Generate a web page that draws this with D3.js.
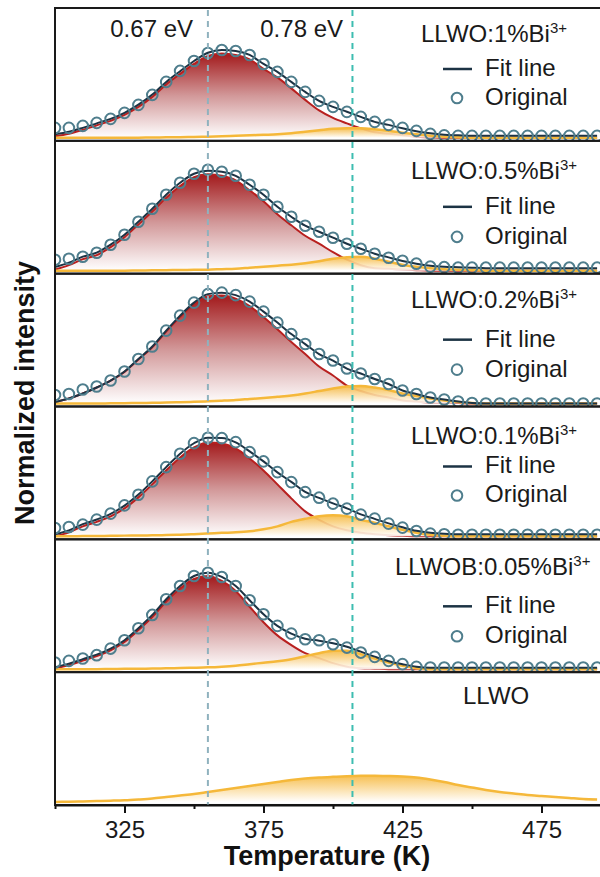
<!DOCTYPE html>
<html>
<head>
<meta charset="utf-8">
<script src="https://cdn.jsdelivr.net/npm/d3@7"></script>
<style>
body { margin: 0; background: #fff; }
svg { display: block; font-family: "Liberation Sans", Arial, sans-serif; }
</style>
</head>
<body>
<div id="chart"></div>
<script>
// temperature grid of the measured points (K)
const temps = [300,305,310,315,320,325,330,335,340,345,350,355,360,365,370,375,380,385,390,395,
               400,405,410,415,420,425,430,435,440,445,450,455,460,465,470,475,480,485,490,495];

const sampleNames = ["LLWO:1%Bi", "LLWO:0.5%Bi", "LLWO:0.2%Bi", "LLWO:0.1%Bi", "LLWOB:0.05%Bi", "LLWO"];
const sampleIons  = ["3+", "3+", "3+", "3+", "3+", ""];

// original (measured) normalized intensity
const orig1 = [.10,.10,.12,.15,.19,.25,.33,.43,.56,.67, .77,.85,.88,.87,.83,.74,.66,.56,.46,.37,
               .31,.26,.21,.16,.13,.10,.07,.04,.025,.02, .02,.02,.02,.02,.02,.02,.02,.02,.02,.02];
const orig2 = [.11,.12,.14,.18,.26,.36,.49,.62,.76,.88, .97,1.01,.99,.95,.86,.76,.64,.54,.45,.39,
               .33,.27,.22,.17,.13,.10,.07,.04,.035,.03, .03,.03,.03,.03,.03,.03,.03,.03,.03,.03];
const orig3 = [.085,.095,.14,.17,.23,.32,.445,.57,.73,.88, 1.01,1.095,1.11,1.085,1.02,.92,.81,.695,.595,.495,
               .43,.35,.30,.245,.195,.13,.095,.06,.04,.02, .005,0,0,0,0,0,0,0,0,0];
const orig4 = [.083,.093,.117,.167,.227,.31,.417,.55,.693,.827, .933,.987,.983,.943,.843,.75,.643,.543,.443,.387,
               .327,.277,.217,.177,.127,.087,.053,.027,.02,.015, .015,.015,.015,.015,.015,.015,.015,.015,.015,.015];
const orig5 = [.066,.083,.106,.14,.206,.29,.41,.543,.70,.833, .933,.966,.923,.833,.69,.55,.433,.356,.30,.29,
               .25,.216,.166,.123,.083,.05,.023,.017,.016,.016, .016,.016,.016,.016,.016,.016,.016,.016,.016,.016];

// fitted low-temperature component (red)
const red1 = [.015,.04,.08,.125,.17,.23,.31,.41,.535,.64, .74,.82,.845,.83,.785,.69,.605,.495,.38,.275,
              .20,.145,.095,.055,.04,.025,.01,.005,0,0, 0,0,0,0,0,0,0,0,0,0];
const red2 = [.01,.055,.115,.155,.235,.335,.463,.592,.73,.848, .937,.965,.95,.905,.805,.695,.565,.455,.35,.27,
              .185,.11,.055,.025,.018,.012,.005,0,0,0, 0,0,0,0,0,0,0,0,0,0];
const red3 = [.015,.05,.10,.16,.228,.317,.44,.563,.72,.867, .993,1.073,1.082,1.05,.975,.865,.743,.615,.495,.37,
              .28,.18,.125,.085,.06,.03,.02,.01,.01,.005, 0,0,0,0,0,0,0,0,0,0];
const red4 = [0,.04,.10,.145,.20,.28,.39,.52,.66,.79, .89,.94,.93,.88,.78,.66,.52,.38,.25,.165,
              .10,.06,.035,.02,.01,.005,0,0,0,0, 0,0,0,0,0,0,0,0,0,0];
const red5 = [.005,.04,.085,.13,.189,.272,.391,.522,.677,.807, .904,.933,.883,.783,.625,.47,.338,.241,.16,.11,
              .06,.025,.01,.005,0,0,0,0,0,0, 0,0,0,0,0,0,0,0,0,0];

// fitted high-temperature component (orange)
const orange1 = [0,0,0,0,0,.001,.002,.003,.005,.007, .009,.012,.015,.02,.025,.03,.035,.045,.06,.075,
                 .09,.096,.095,.085,.07,.05,.035,.02,.01,.005, 0,0,0,0,0,0,0,0,0,0];
const orange2 = [0,0,0,0,0,0,.002,.003,.005,.007, .008,.01,.015,.02,.03,.04,.05,.06,.075,.095,
                 .12,.135,.14,.12,.09,.06,.04,.025,.015,.01, .005,0,0,0,0,0,0,0,0,0];
const orange3 = [0,0,0,0,.002,.003,.005,.007,.01,.013, .017,.022,.028,.035,.045,.055,.067,.08,.10,.125,
                 .15,.17,.175,.16,.135,.10,.075,.05,.03,.015, .005,0,0,0,0,0,0,0,0,0];
const orange4 = [0,0,.002,.003,.005,.007,.008,.01,.013,.017, .022,.028,.035,.04,.05,.07,.10,.145,.175,.20,
                 .21,.20,.165,.135,.10,.065,.035,.015,.005,0, 0,0,0,0,0,0,0,0,0,0];
const orange5 = [0,0,0,0,.002,.003,.004,.006,.008,.011, .014,.018,.025,.035,.05,.065,.08,.10,.13,.16,
                 .185,.185,.15,.105,.065,.035,.01,0,0,0, 0,0,0,0,0,0,0,0,0,0];
const orange6 = [0,.003,.006,.01,.013,.017,.025,.035,.05,.065, .08,.10,.12,.14,.16,.18,.20,.22,.235,.245,
                 .252,.258,.262,.263,.26,.255,.245,.225,.20,.17, .145,.12,.10,.085,.07,.06,.05,.04,.03,.025];

// constant background term of each fit
const fitOffsets = [.02, .025, 0, .02, .015, 0];

// activation energies marked by the dashed lines
const trapTemps = [355, 407];
const trapLabels = ["0.67 eV", "0.78 eV"];
const xTicks = [325, 375, 425, 475];
const xMinorTicks = [300, 350, 400, 450];

const panels = [
  {orig: orig1, red: red1, orange: orange1},
  {orig: orig2, red: red2, orange: orange2},
  {orig: orig3, red: red3, orange: orange3},
  {orig: orig4, red: red4, orange: orange4},
  {orig: orig5, red: red5, orange: orange5},
  {orig: null,  red: null, orange: orange6}
];

// legend placement inside each panel (px from panel top)
const legendPos = [
  {tx: 421, ty: 34, fy: 68, oy: 97},
  {tx: 411, ty: 38, fy: 73, oy: 103},
  {tx: 411, ty: 34, fy: 73, oy: 103},
  {tx: 411, ty: 38, fy: 67, oy: 96},
  {tx: 395, ty: 36, fy: 74, oy: 104},
  {tx: 463, ty: 32}
];

const width = 600, height = 877;
const top0 = 8, panelH = 132.83;

const svg = d3.select("#chart").append("svg")
  .attr("width", width)
  .attr("height", height);

const defs = svg.append("defs");
const rg = defs.append("linearGradient").attr("id", "redFill")
  .attr("x1", 0).attr("y1", 0).attr("x2", 0).attr("y2", 1);
rg.append("stop").attr("offset", "0%").attr("stop-color", "#a31a1c");
rg.append("stop").attr("offset", "50%").attr("stop-color", "#d29899");
rg.append("stop").attr("offset", "100%").attr("stop-color", "#ffffff");
const og = defs.append("linearGradient").attr("id", "orangeFill")
  .attr("x1", 0).attr("y1", 0).attr("x2", 0).attr("y2", 1);
og.append("stop").attr("offset", "0%").attr("stop-color", "#f6b940").attr("stop-opacity", 0.9);
og.append("stop").attr("offset", "100%").attr("stop-color", "#ffffff").attr("stop-opacity", 0.9);

const x = d3.scaleLinear().domain([300, 500]).range([55, 611]);

panels.forEach((p, i) => {
  const top = top0 + i * panelH;
  const y = d3.scaleLinear().domain([-0.03, 1.30]).range([top + panelH, top]);
  const off = fitOffsets[i];

  defs.append("clipPath").attr("id", "clip" + i)
    .append("rect").attr("x", 55).attr("y", top).attr("width", 560).attr("height", panelH);

  const g = svg.append("g").attr("clip-path", `url(#clip${i})`);

  const area = d3.area().x((d, j) => x(temps[j])).y0(y(0)).y1(d => y(d)).curve(d3.curveMonotoneX);
  const line = d3.line().x((d, j) => x(temps[j])).y(d => y(d)).curve(d3.curveMonotoneX);

  if (p.red) {
    g.append("path").datum(p.red).attr("d", area).attr("fill", "url(#redFill)");
    g.append("path").datum(p.red).attr("d", line)
      .attr("fill", "none").attr("stroke", "#b8201f").attr("stroke-width", 2);
  }
  g.append("path").datum(p.orange).attr("d", area).attr("fill", "url(#orangeFill)");
  g.append("path").datum(p.orange).attr("d", line)
    .attr("fill", "none").attr("stroke", "#f5b83a").attr("stroke-width", 2.5);

  if (p.red) {
    const fit = p.red.map((d, j) => d + p.orange[j] + off);
    g.append("path").datum(fit).attr("d", line)
      .attr("fill", "none").attr("stroke", "#1c3344").attr("stroke-width", 2);

    g.selectAll(".pt")
      .data(p.orig)
      .enter()
      .append("circle")
      .attr("cx", (d, j) => x(temps[j]))
      .attr("cy", d => y(d))
      .attr("r", 5.3)
      .attr("fill", "none")
      .attr("stroke", "#4f7e8d")
      .attr("stroke-width", 2);
  }

  // panel frame (right side runs off the picture)
  svg.append("rect")
    .attr("x", 55).attr("y", top)
    .attr("width", 600).attr("height", panelH)
    .attr("fill", "none").attr("stroke", "#1a1a1a").attr("stroke-width", 2);

  // legend
  const lp = legendPos[i];
  const t = svg.append("text").attr("x", lp.tx).attr("y", top + lp.ty)
    .attr("font-size", 24).attr("fill", "#1a1a1a");
  t.append("tspan").text(sampleNames[i]);
  if (sampleIons[i]) t.append("tspan").attr("dy", -9).attr("font-size", 15).text(sampleIons[i]);

  if (p.red) {
    svg.append("line")
      .attr("x1", 443).attr("x2", 472)
      .attr("y1", top + lp.fy - 7).attr("y2", top + lp.fy - 7)
      .attr("stroke", "#1c3344").attr("stroke-width", 2.5);
    svg.append("text").attr("x", 485).attr("y", top + lp.fy)
      .attr("font-size", 24).attr("fill", "#1a1a1a").text("Fit line");
    svg.append("circle")
      .attr("cx", 457).attr("cy", top + lp.oy - 7).attr("r", 5.3)
      .attr("fill", "none").attr("stroke", "#4f7e8d").attr("stroke-width", 2);
    svg.append("text").attr("x", 485).attr("y", top + lp.oy)
      .attr("font-size", 24).attr("fill", "#1a1a1a").text("Original");
  }
});

const bottom = top0 + 6 * panelH;

// dashed guide lines
const dashColors = ["#8fb2be", "#3dbdb1"];
trapTemps.forEach((tv, k) => {
  svg.append("line")
    .attr("x1", x(tv)).attr("x2", x(tv))
    .attr("y1", top0 + 2).attr("y2", bottom)
    .attr("stroke", dashColors[k]).attr("stroke-width", 2)
    .attr("stroke-dasharray", "6,5");
});
svg.append("text").attr("x", 193).attr("y", 37).attr("text-anchor", "end")
  .attr("font-size", 24).attr("fill", "#1a1a1a").text(trapLabels[0]);
svg.append("text").attr("x", 343).attr("y", 37).attr("text-anchor", "end")
  .attr("font-size", 24).attr("fill", "#1a1a1a").text(trapLabels[1]);

// x axis
const gx = svg.append("g").attr("transform", `translate(0,${bottom})`)
  .call(d3.axisBottom(x).tickValues(xTicks).tickSize(8).tickSizeOuter(0).tickPadding(8).tickFormat(d3.format("d")));
gx.select(".domain").attr("stroke", "#111").attr("stroke-width", 2);
gx.selectAll(".tick line").attr("stroke", "#111").attr("stroke-width", 2);
gx.selectAll(".tick text").attr("font-size", 24).attr("fill", "#1a1a1a")
  .attr("font-family", "Liberation Sans, Arial, sans-serif");

const gm = svg.append("g").attr("transform", `translate(0,${bottom})`)
  .call(d3.axisBottom(x).tickValues(xMinorTicks).tickSize(4).tickSizeOuter(0).tickFormat(""));
gm.select(".domain").remove();
gm.selectAll(".tick line").attr("stroke", "#111").attr("stroke-width", 2);

svg.append("text")
  .attr("x", 327).attr("y", 865)
  .attr("text-anchor", "middle")
  .attr("font-size", 27).attr("font-weight", "bold").attr("fill", "#111")
  .text("Temperature (K)");

svg.append("text")
  .attr("transform", "translate(34,393) rotate(-90)")
  .attr("text-anchor", "middle")
  .attr("font-size", 27).attr("font-weight", "bold").attr("fill", "#111")
  .text("Normalized intensity");
</script>
</body>
</html>
